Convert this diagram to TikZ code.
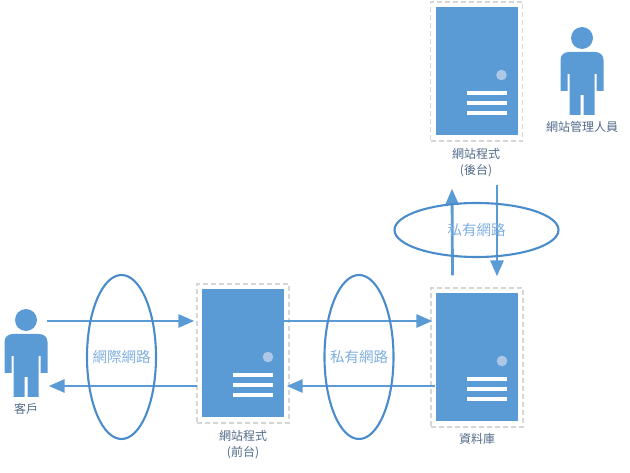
\documentclass[tikz,border=0pt]{standalone}
\usepackage{fontspec}
\newfontfamily\cjkfont{Noto Sans CJK TC}
\usetikzlibrary{arrows.meta,shapes.geometric}
\definecolor{mainblue}{HTML}{5B9BD5}
\definecolor{ovalline}{HTML}{4A8CCB}
\definecolor{labelink}{HTML}{4F6A88}
\definecolor{netink}{HTML}{7FAEDF}
\definecolor{dashgrey}{HTML}{D6D6D6}
\definecolor{knob}{HTML}{ADC8E6}
\tikzset{
  dashbox/.style={draw=dashgrey,line width=1.3pt,dash pattern=on 5pt off 3pt,minimum width=92pt,minimum height=139pt,inner sep=0pt},
  bluebox/.style={fill=mainblue,minimum width=82pt,minimum height=128pt,inner sep=0pt},
  vent/.style={draw=white,line width=3.4pt},
  conn/.style={draw=mainblue,line width=2.8pt,-{Triangle[length=16pt,width=13pt]}},
  oval/.style={draw=ovalline,line width=2.1pt,ellipse,inner sep=0pt},
  netlabel/.style={text=netink,font=\cjkfont\fontsize{14.5}{16}\selectfont},
  caption/.style={text=labelink,font=\cjkfont\fontsize{12}{16}\selectfont,align=center,inner sep=0pt},
  personbox/.style={minimum width=43pt,minimum height=88pt,inner sep=0pt}
}
\newcommand{\serverunit}[3]{%
  \begin{scope}[shift={(#2,#3)}]
    \node[dashbox] (#1) at (0,0) {};
    \node[bluebox] (#1body) at (0,0) {};
    \fill[knob] (25,3.5) circle (5.3);
    \draw[vent] (-10,21.5) -- (30,21.5);
    \draw[vent] (-10,31.5) -- (30,31.5);
    \draw[vent] (-10,41.5) -- (30,41.5);
  \end{scope}}
\newcommand{\personunit}[3]{%
  \begin{scope}[shift={(#2,#3)}]
    \node[personbox] (#1) at (0,33.5) {};
    \fill[mainblue] (0,0) circle (11);
    \fill[mainblue] (-21.5,53) -- (-21.5,22) .. controls (-21.5,17) and (-18,14) .. (-13,14)
      -- (13,14) .. controls (18,14) and (21.5,17) .. (21.5,22) -- (21.5,53) -- (14.5,53) -- (14.5,36)
      -- (12.5,36) -- (12.5,77) -- (1.5,77) -- (1.5,57) -- (-1.5,57) -- (-1.5,77) -- (-12.5,77)
      -- (-12.5,36) -- (-14.5,36) -- (-14.5,53) -- cycle;
  \end{scope}}
\begin{document}
\begin{tikzpicture}[x=1pt,y=-1pt]
\useasboundingbox (0,0) rectangle (630,473);
\serverunit{front}{243}{353.5}
\serverunit{back}{476.5}{71.5}
\serverunit{db}{477}{357.5}
\personunit{client}{26}{320}
\personunit{admin}{582}{38}
\draw[conn] ([yshift=32.5pt,xshift=-0.5pt]client.east) -- ([yshift=32.5pt,xshift=-2pt]front.west);
\draw[conn] ([yshift=-32.5pt,xshift=1pt]front.west) -- ([yshift=-32.5pt,xshift=1pt]client.east);
\draw[conn] ([yshift=32.5pt]frontbody.east) -- ([yshift=36.5pt,xshift=2pt]db.west);
\draw[conn] ([yshift=-28.5pt,xshift=5pt]db.west) -- ([yshift=-32.5pt,xshift=-3pt]front.east);
\draw[conn] ([xshift=-24.5pt,yshift=12pt]db.north) -- ([xshift=-24.5pt,yshift=-47pt]back.south);
\draw[conn] ([xshift=20.5pt,yshift=-43pt]back.south) -- ([xshift=20pt,yshift=11pt]db.north);
\node[oval,minimum width=69pt,minimum height=164pt] (inet) at (121.5,357) {};
\node[netlabel] at (inet.center) {網際網路};
\node[oval,minimum width=69pt,minimum height=164pt] (lan1) at (359,357) {};
\node[netlabel] at (lan1.center) {私有網路};
\node[oval,minimum width=164pt,minimum height=54pt] (lan2) at (476.5,230) {};
\node[netlabel] at (lan2.center) {私有網路};
\node[caption] (cap1) at (243,445) {網站程式\\(前台)};
\node[caption] (cap2) at (476,162.5) {網站程式\\(後台)};
\node[caption] (cap3) at (477,439) {資料庫};
\node[caption] (cap4) at (26,409) {客戶};
\node[caption] (cap5) at (582,127) {網站管理人員};
\end{tikzpicture}
\end{document}
